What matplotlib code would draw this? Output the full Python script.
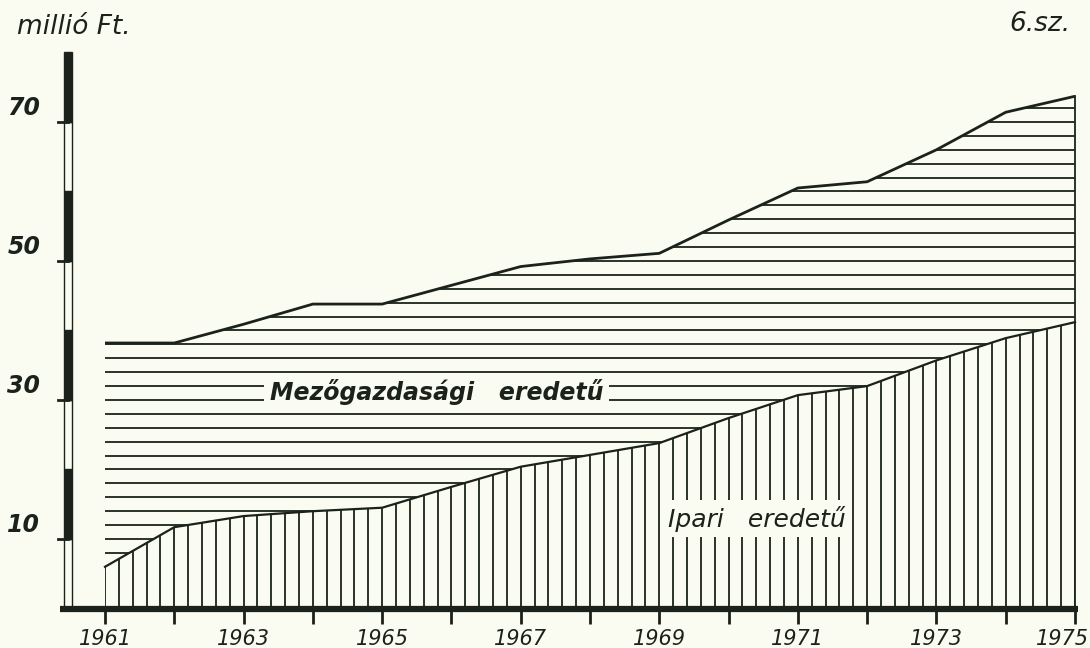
import numpy as np
import matplotlib
matplotlib.use("Agg")
import matplotlib.pyplot as plt
from matplotlib.patches import Rectangle

# adatok (millió Ft), leolvasva az ábráról
evek = np.arange(1961, 1976)
osszesen = [38.2, 38.2, 40.9, 43.8, 43.8, 46.5, 49.2, 50.3, 51.1, 55.9, 60.5, 61.4, 66.0, 71.4, 73.7]
ipari = [6.0, 11.7, 13.3, 14.0, 14.5, 17.5, 20.4, 22.1, 23.8, 27.4, 30.7, 32.0, 35.7, 38.9, 41.2]
ev_feliratok = [1961, 1963, 1965, 1967, 1969, 1971, 1973, 1975]
y_feliratok = [10, 30, 50, 70]

bg = "#fbfcf1"
ink = "#1b221b"

fig = plt.figure(figsize=(10.9, 6.48), dpi=100, facecolor=bg)
ax = fig.add_axes([0, 0, 1, 1])
ax.set_facecolor(bg)
ax.axis("off")
# 1961 -> 105 px, 1975 -> 1075 px ; 0 -> 608.5 px, 10 egység = 69.5 px
ax.set_xlim(1959.4845, 1975.2165)
ax.set_ylim(-5.683, 87.55)

# ipari rész: függőleges vonalkázás
lower = ax.fill_between(evek, 0, ipari, facecolor="none", edgecolor="none")
vl = ax.vlines(np.linspace(1961, 1975, 71), 0, 50, color=ink, lw=1.3)
vl.set_clip_path(lower.get_paths()[0], ax.transData)

# mezőgazdasági rész: vízszintes vonalkázás
upper = ax.fill_between(evek, ipari, osszesen, facecolor="none", edgecolor="none")
hl = ax.hlines(np.arange(2, 80, 2), 1961, 1975, color=ink, lw=1.3)
hl.set_clip_path(upper.get_paths()[0], ax.transData)

ax.plot(evek, osszesen, color=ink, lw=2.0, solid_capstyle="butt")
ax.plot(evek, ipari, color=ink, lw=1.6)
ax.plot([1975, 1975], [0, osszesen[-1]], color=ink, lw=1.3)

# tengelyek
yt = ax.get_yaxis_transform()
for i, v in enumerate(range(0, 80, 10)):
    ax.add_patch(Rectangle((0.0585, v), 0.0072, 10, transform=yt,
                           facecolor=ink if i % 2 else bg, edgecolor=ink, lw=1.0))
for v in y_feliratok:
    ax.plot([0.053, 0.062], [v, v], transform=yt, color=ink, lw=2)
    ax.text(0.037, v + 0.3, str(v), transform=yt, ha="right", va="bottom",
            fontsize=17, style="italic", fontweight="bold", color=ink)

ax.plot([1960.35, 1975.05], [0, 0], color=ink, lw=4.5, solid_capstyle="butt")
ax.vlines(evek, -2.2, 0, color=ink, lw=2)
for ev in ev_feliratok:
    if ev == ev_feliratok[-1]:
        ax.text(1975.2, -4.4, str(ev), ha="right", va="center", fontsize=15,
                style="italic", color=ink)
    else:
        ax.text(ev, -4.4, str(ev), ha="center", va="center", fontsize=15,
                style="italic", color=ink)

ax.text(17 / 1090, 1 - 27 / 648, "millió Ft.", transform=ax.transAxes,
        ha="left", va="center", fontsize=19, style="italic", color=ink)
ax.text(1070 / 1090, 1 - 24 / 648, "6.sz.", transform=ax.transAxes,
        ha="right", va="center", fontsize=19, style="italic", color=ink)

ax.text(1965.79, 31.15, "Mezőgazdasági   eredetű", ha="center", va="center",
        fontsize=17, style="italic", fontweight="bold", color=ink,
        bbox=dict(facecolor=bg, edgecolor="none", pad=4))
ax.text(1970.41, 12.9, "Ipari   eredetű", ha="center", va="center",
        fontsize=18, style="italic", color=ink,
        bbox=dict(facecolor=bg, edgecolor="none", pad=4))

fig.savefig("out.png", dpi=100, facecolor=bg)
